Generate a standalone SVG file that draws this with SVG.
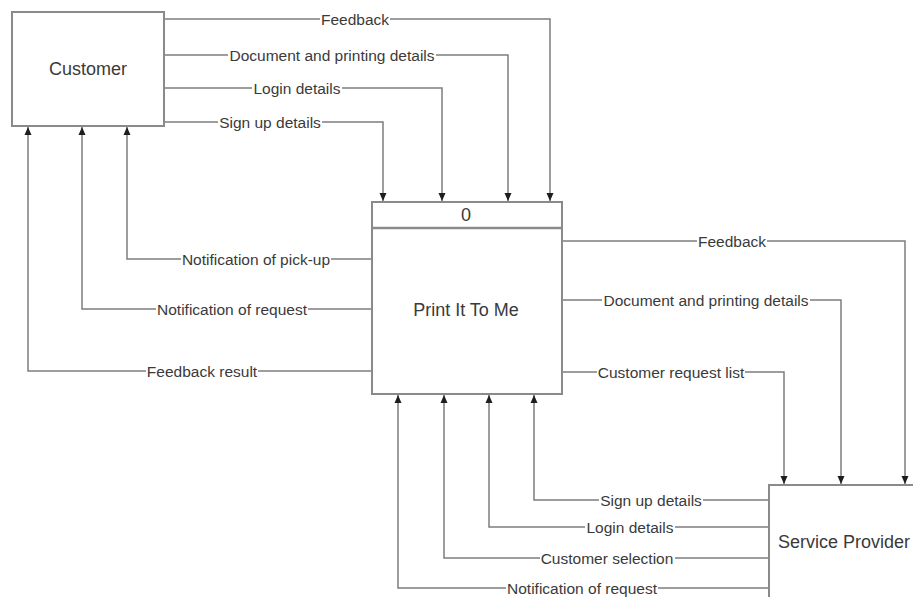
<svg xmlns="http://www.w3.org/2000/svg" width="913" height="597" viewBox="0 0 913 597">
  <style>
    .box { fill: #ffffff; stroke: #8a8a8a; stroke-width: 2; }
    .name { font-family: "Liberation Sans", Arial, sans-serif; font-size: 18px; fill: #3a3a3a; text-anchor: middle; dominant-baseline: central; }
    .flow { fill: none; stroke: #7d7d7d; stroke-width: 1.5; marker-end: url(#arrow); }
    .bg { fill: #ffffff; }
    .lbl { font-family: "Liberation Sans", Arial, sans-serif; font-size: 15.5px; fill: #3a3a3a; text-anchor: middle; dominant-baseline: central; }
  </style>
  <defs>
    <marker id="arrow" viewBox="0 0 8 8" refX="8" refY="4" markerWidth="8" markerHeight="8" markerUnits="userSpaceOnUse" orient="auto">
      <path d="M0,0.5 L8,4 L0,7.5 Z" fill="#1e1e1e"/>
    </marker>
  </defs>
  <rect width="913" height="597" fill="#ffffff"/>

  <g id="connectors">
    <!-- Customer to process -->
    <path class="flow" d="M164,19 H550 V201"/>
    <path class="flow" d="M164,55 H508 V201"/>
    <path class="flow" d="M164,88 H442 V201"/>
    <path class="flow" d="M164,122 H383 V201"/>
    <!-- Process to customer -->
    <path class="flow" d="M372,259 H127 V127"/>
    <path class="flow" d="M372,309 H82 V127"/>
    <path class="flow" d="M372,371 H28 V127"/>
    <!-- Process to service provider -->
    <path class="flow" d="M562,241 H905 V484"/>
    <path class="flow" d="M562,300 H841 V484"/>
    <path class="flow" d="M562,372 H784 V484"/>
    <!-- Service provider to process -->
    <path class="flow" d="M769,500 H534 V395"/>
    <path class="flow" d="M769,527 H489 V395"/>
    <path class="flow" d="M769,558 H444 V395"/>
    <path class="flow" d="M769,588 H398 V395"/>

    <!-- label backgrounds break the lines under the text -->
    <rect class="bg" x="320" y="12" width="70" height="14"/>
    <rect class="bg" x="228" y="48" width="208" height="14"/>
    <rect class="bg" x="252" y="81" width="90" height="14"/>
    <rect class="bg" x="218" y="115" width="104" height="14"/>
    <rect class="bg" x="181" y="252" width="150" height="14"/>
    <rect class="bg" x="156" y="302" width="152" height="14"/>
    <rect class="bg" x="146" y="364" width="112" height="14"/>
    <rect class="bg" x="697" y="234" width="70" height="14"/>
    <rect class="bg" x="602" y="293" width="208" height="14"/>
    <rect class="bg" x="597" y="365" width="148" height="14"/>
    <rect class="bg" x="599" y="493" width="104" height="14"/>
    <rect class="bg" x="585" y="520" width="90" height="14"/>
    <rect class="bg" x="540" y="551" width="135" height="14"/>
    <rect class="bg" x="506" y="581" width="152" height="14"/>

    <text class="lbl" x="355" y="19">Feedback</text>
    <text class="lbl" x="332" y="55">Document and printing details</text>
    <text class="lbl" x="297" y="88">Login details</text>
    <text class="lbl" x="270" y="122">Sign up details</text>
    <text class="lbl" x="256" y="259">Notification of pick-up</text>
    <text class="lbl" x="232" y="309">Notification of request</text>
    <text class="lbl" x="202" y="371">Feedback result</text>
    <text class="lbl" x="732" y="241">Feedback</text>
    <text class="lbl" x="706" y="300">Document and printing details</text>
    <text class="lbl" x="671" y="372">Customer request list</text>
    <text class="lbl" x="651" y="500">Sign up details</text>
    <text class="lbl" x="630" y="527">Login details</text>
    <text class="lbl" x="607" y="558">Customer selection</text>
    <text class="lbl" x="582" y="588">Notification of request</text>
  </g>

  <g id="customer">
    <rect class="box" x="12" y="12" width="152" height="114"/>
    <text class="name" x="88" y="69">Customer</text>
  </g>

  <g id="print-it-to-me">
    <rect class="box" x="372" y="202" width="190" height="192"/>
    <line x1="372" y1="228" x2="562" y2="228" stroke="#8a8a8a" stroke-width="2.5"/>
    <text class="name" x="466" y="215">0</text>
    <text class="name" x="466" y="310">Print It To Me</text>
  </g>

  <g id="service-provider">
    <rect class="box" x="769" y="485" width="170" height="130"/>
    <text class="name" x="844" y="542">Service Provider</text>
  </g>
</svg>
